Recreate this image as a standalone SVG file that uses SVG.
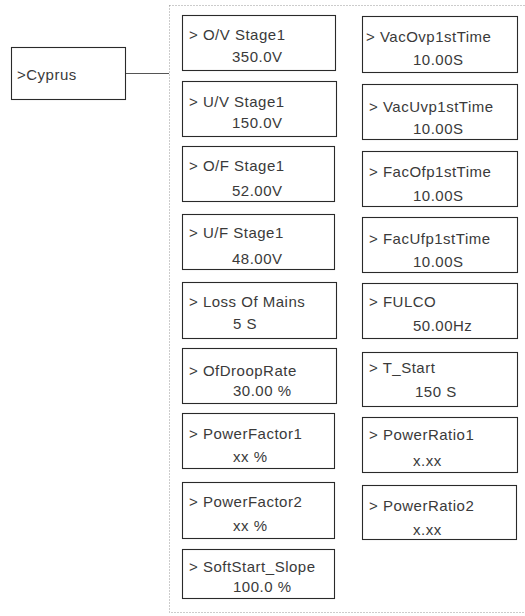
<svg xmlns="http://www.w3.org/2000/svg" width="525" height="616" viewBox="0 0 525 616">
<style>
.box{fill:#fff;stroke:#2a2a2a;stroke-width:1.1}
.t{font-family:"Liberation Sans",Arial,sans-serif;font-size:15px;fill:#3a3a3a;letter-spacing:0.5px}
.frame{fill:none;stroke:#999;stroke-width:1;stroke-dasharray:1 2}
.conn{stroke:#555;stroke-width:1.2;fill:none}
</style>
<rect class="frame" x="169.5" y="5.5" width="370" height="607"/>
<g id="connectors">
<line class="conn" x1="125" y1="73.5" x2="169" y2="73.5"/>
</g>
<g id="cyprus"><rect class="box" x="11.5" y="47.5" width="114" height="52"/><text class="t" x="17" y="80">&gt;Cyprus</text></g>

<g id="ov"><rect class="box" x="182.5" y="15.5" width="153" height="55"/><text class="t" x="189" y="40">&gt; O/V Stage1</text><text class="t" x="232" y="62">350.0V</text></g>
<g id="uv"><rect class="box" x="182.5" y="81.5" width="154" height="55"/><text class="t" x="189" y="107">&gt; U/V Stage1</text><text class="t" x="232" y="128">150.0V</text></g>
<g id="of"><rect class="box" x="182.5" y="146.5" width="152" height="55"/><text class="t" x="189" y="171">&gt; O/F Stage1</text><text class="t" x="232" y="196">52.00V</text></g>
<g id="uf"><rect class="box" x="182.5" y="214.5" width="152" height="55"/><text class="t" x="189" y="238">&gt; U/F Stage1</text><text class="t" x="232" y="264">48.00V</text></g>
<g id="lom"><rect class="box" x="182.5" y="282.5" width="154" height="56"/><text class="t" x="189" y="307">&gt; Loss Of Mains</text><text class="t" x="233" y="329">5 S</text></g>
<g id="droop"><rect class="box" x="182.5" y="348.5" width="154" height="55"/><text class="t" x="189" y="376">&gt; OfDroopRate</text><text class="t" x="233" y="396">30.00 %</text></g>
<g id="pf1"><rect class="box" x="182.5" y="413.5" width="152" height="55"/><text class="t" x="189" y="439">&gt; PowerFactor1</text><text class="t" x="233" y="462">xx %</text></g>
<g id="pf2"><rect class="box" x="182.5" y="482.5" width="152" height="56"/><text class="t" x="189" y="507">&gt; PowerFactor2</text><text class="t" x="233" y="531">xx %</text></g>
<g id="soft"><rect class="box" x="182.5" y="549.5" width="152" height="49"/><text class="t" x="189" y="572">&gt; SoftStart_Slope</text><text class="t" x="233" y="592">100.0 %</text></g>

<g id="vacovp"><rect class="box" x="362.5" y="16.5" width="155" height="56"/><text class="t" x="366" y="42">&gt; VacOvp1stTime</text><text class="t" x="413" y="65">10.00S</text></g>
<g id="vacuvp"><rect class="box" x="362.5" y="84.5" width="155" height="55"/><text class="t" x="369" y="112">&gt; VacUvp1stTime</text><text class="t" x="413" y="134">10.00S</text></g>
<g id="facofp"><rect class="box" x="362.5" y="151.5" width="155" height="55"/><text class="t" x="369" y="177">&gt; FacOfp1stTime</text><text class="t" x="413" y="201">10.00S</text></g>
<g id="facufp"><rect class="box" x="362.5" y="217.5" width="155" height="55"/><text class="t" x="369" y="244">&gt; FacUfp1stTime</text><text class="t" x="413" y="267">10.00S</text></g>
<g id="fulco"><rect class="box" x="362.5" y="283.5" width="155" height="55"/><text class="t" x="369" y="307">&gt; FULCO</text><text class="t" x="413" y="331">50.00Hz</text></g>
<g id="tstart"><rect class="box" x="362.5" y="352.5" width="155" height="54"/><text class="t" x="369" y="373">&gt; T_Start</text><text class="t" x="415" y="397">150 S</text></g>
<g id="pr1"><rect class="box" x="362.5" y="417.5" width="155" height="55"/><text class="t" x="369" y="440">&gt; PowerRatio1</text><text class="t" x="413" y="466">x.xx</text></g>
<g id="pr2"><rect class="box" x="362.5" y="485.5" width="154" height="54"/><text class="t" x="369" y="511">&gt; PowerRatio2</text><text class="t" x="413" y="535">x.xx</text></g>
</svg>
